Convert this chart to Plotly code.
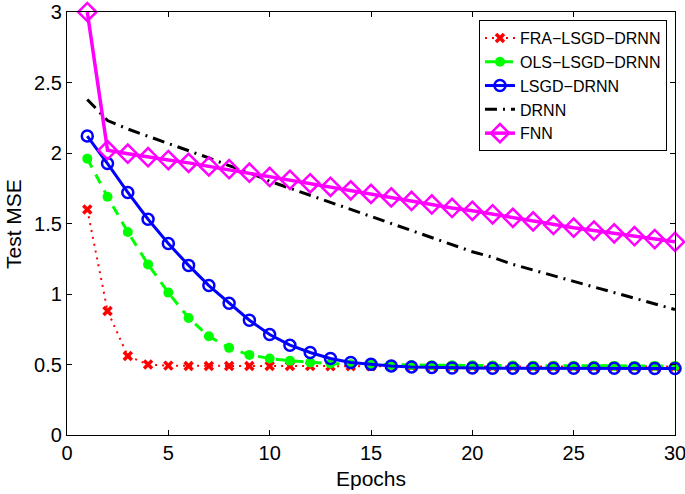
import plotly.graph_objects as go

epochs = list(range(1, 31))

fra_lsgd_drnn = [1.60, 0.88, 0.56, 0.50, 0.492, 0.490, 0.490, 0.490, 0.490, 0.489,
                 0.489, 0.489, 0.488, 0.488, 0.488, 0.488, 0.487, 0.487, 0.487, 0.487,
                 0.486, 0.486, 0.486, 0.486, 0.485, 0.485, 0.485, 0.485, 0.485, 0.485]

ols_lsgd_drnn = [1.96, 1.69, 1.44, 1.21, 1.01, 0.83, 0.70, 0.618, 0.568, 0.543,
                 0.526, 0.514, 0.507, 0.502, 0.499, 0.497, 0.496, 0.495, 0.494, 0.494,
                 0.493, 0.493, 0.492, 0.492, 0.491, 0.491, 0.490, 0.490, 0.490, 0.489]

lsgd_drnn = [2.12, 1.925, 1.72, 1.53, 1.358, 1.203, 1.06, 0.934, 0.814, 0.713,
             0.637, 0.585, 0.543, 0.514, 0.501, 0.490, 0.483, 0.479, 0.476, 0.475,
             0.474, 0.474, 0.474, 0.473, 0.473, 0.473, 0.473, 0.473, 0.472, 0.472]

drnn = [2.38, 2.23, 2.17, 2.12, 2.07, 2.02, 1.965, 1.91, 1.86, 1.80,
        1.75, 1.70, 1.65, 1.60, 1.55, 1.50, 1.45, 1.40, 1.35, 1.30,
        1.26, 1.21, 1.17, 1.13, 1.09, 1.05, 1.01, 0.97, 0.93, 0.89]

fnn = [3.0, 2.02, 1.995, 1.97, 1.95, 1.93, 1.905, 1.885, 1.86, 1.83,
       1.81, 1.785, 1.76, 1.735, 1.71, 1.685, 1.66, 1.635, 1.61, 1.59,
       1.565, 1.54, 1.515, 1.49, 1.47, 1.45, 1.43, 1.41, 1.39, 1.37]

x_ticks = [0, 5, 10, 15, 20, 25, 30]
y_ticks = [0, 0.5, 1, 1.5, 2, 2.5, 3]
y_tick_labels = ["0", "0.5", "1", "1.5", "2", "2.5", "3"]

font_family = "Liberation Sans, Arial, sans-serif"

fig = go.Figure()

fig.add_trace(go.Scatter(
    x=epochs, y=fra_lsgd_drnn, mode="lines+markers", name="FRA\u2212LSGD\u2212DRNN",
    line=dict(color="#FF0000", width=2, dash="2px,5px"),
    marker=dict(symbol="x-thin", size=8, color="#FF0000",
                line=dict(color="#FF0000", width=3.5)),
    cliponaxis=False,
))
fig.add_trace(go.Scatter(
    x=epochs, y=ols_lsgd_drnn, mode="lines+markers", name="OLS\u2212LSGD\u2212DRNN",
    line=dict(color="#00FF00", width=3, dash="10px,8px"),
    marker=dict(symbol="circle", size=10, color="#00FF00"),
    cliponaxis=False,
))
fig.add_trace(go.Scatter(
    x=epochs, y=lsgd_drnn, mode="lines+markers", name="LSGD\u2212DRNN",
    line=dict(color="#0000FF", width=3),
    marker=dict(symbol="circle-open", size=11, color="#0000FF",
                line=dict(color="#0000FF", width=2.5)),
    cliponaxis=False,
))
fig.add_trace(go.Scatter(
    x=epochs, y=drnn, mode="lines", name="DRNN",
    line=dict(color="#000000", width=3, dash="12px,6px,2px,6px"),
    cliponaxis=False,
))
fig.add_trace(go.Scatter(
    x=epochs, y=fnn, mode="lines+markers", name="FNN",
    line=dict(color="#FF00FF", width=3.5),
    marker=dict(symbol="diamond-open", size=14, color="#FF00FF",
                line=dict(color="#FF00FF", width=2.5)),
    cliponaxis=False,
))

fig.update_layout(
    width=685, height=494,
    margin=dict(l=67, r=10, t=12, b=59),
    paper_bgcolor="white", plot_bgcolor="white",
    font=dict(family=font_family, size=16, color="black"),
    showlegend=True,
    legend=dict(
        x=0.9868, y=0.981, xanchor="right", yanchor="top",
        bgcolor="white", bordercolor="black", borderwidth=1,
        font=dict(family=font_family, size=16, color="black"),
        tracegroupgap=0,
    ),
    annotations=[
        dict(text="Test MSE", xref="paper", yref="paper", x=-0.087, y=0.499,
             xanchor="center", yanchor="middle", textangle=-90, showarrow=False,
             font=dict(size=21, family=font_family, color="black")),
        dict(text="Epochs", xref="paper", yref="paper", x=0.5, y=-0.1017,
             xanchor="center", yanchor="middle", showarrow=False,
             font=dict(size=21, family=font_family, color="black")),
    ],
)

fig.update_xaxes(
    range=[0, 30], tickmode="array", tickvals=x_ticks,
    ticks="inside", ticklen=5, tickwidth=1, tickcolor="black",
    showline=True, linecolor="black", linewidth=1.2, mirror="allticks",
    showgrid=False, zeroline=False, automargin=False,
    ticklabeloverflow="allow",
    tickfont=dict(size=20, family=font_family),
)
fig.update_yaxes(
    range=[0, 3], tickmode="array", tickvals=y_ticks, ticktext=y_tick_labels,
    ticks="inside", ticklen=5, tickwidth=1, tickcolor="black",
    showline=True, linecolor="black", linewidth=1.2, mirror="allticks",
    showgrid=False, zeroline=False, automargin=False,
    ticklabeloverflow="allow",
    tickfont=dict(size=20, family=font_family),
)

# remove the browser's default 8px body margin so the figure fills the window
fig.write_html("out.html",
               config={"displayModeBar": False},
               post_script="document.body.style.margin='0';document.body.style.overflow='hidden';")
